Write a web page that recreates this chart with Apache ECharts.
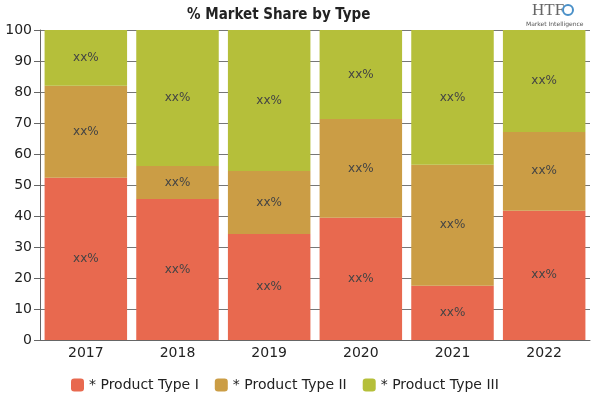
<!DOCTYPE html>
<html><head><meta charset="utf-8">
<script src="https://cdn.jsdelivr.net/npm/echarts@6/dist/echarts.min.js"></script>
<style>html,body{margin:0;padding:0;background:#fff}#c{width:600px;height:400px}</style>
</head><body><div id="c"></div>
<script>
const categories = ['2017','2018','2019','2020','2021','2022'];
const typeI = [52.3, 45.5, 34.2, 39.4, 17.5, 41.7];
const typeII = [29.7, 10.6, 20.3, 31.9, 39.0, 25.4];
const typeIII = [18.0, 43.9, 45.5, 28.7, 43.5, 32.9];
const seriesNames = ['* Product Type I', '* Product Type II', '* Product Type III'];
const colors = ['#E8694F', '#CB9D45', '#B5BF3A'];
const labelText = 'xx%';

const chart = echarts.init(document.getElementById('c'));
const font = 'DejaVu Sans';
const mk = (name, data, color) => ({
  name, type: 'bar', stack: 'total', data, barCategoryGap: '10%',
  itemStyle: {color},
  label: {show: true, position: 'inside', formatter: labelText, color: '#444', fontSize: 12, fontFamily: font},
  emphasis: {disabled: true}
});
chart.setOption({
  animation: false,
  title: {text: '% Market Share by Type', left: 182, top: 3,
    textStyle: {fontFamily: 'DejaVu Sans Condensed', fontWeight: 'bold', fontSize: 15, color: '#222'}},
  graphic: [
    {type: 'text', left: 532, top: 2, style: {text: 'HTF', font: '17px Liberation Serif', fill: '#666'}},
    {type: 'circle', shape: {cx: 568, cy: 10, r: 5}, style: {fill: 'none', stroke: '#4a90c8', lineWidth: 2}},
    {type: 'text', left: 526, top: 21, style: {text: 'Market Intelligence', font: '6px DejaVu Sans', fill: '#555'}}
  ],
  legend: {bottom: 3, left: 66, itemWidth: 13, itemHeight: 13, itemGap: 16,
    textStyle: {fontFamily: font, fontSize: 14, color: '#222'},
    data: seriesNames},
  grid: {left: 40, right: 10, top: 30, bottom: 60},
  xAxis: {type: 'category', data: categories,
    axisLine: {lineStyle: {color: '#666'}},
    axisTick: {show: false},
    axisLabel: {fontFamily: font, fontSize: 14, color: '#222', margin: 6}},
  yAxis: {type: 'value', min: 0, max: 100, interval: 10,
    axisLine: {show: true, lineStyle: {color: '#666'}},
    axisTick: {show: true, length: 6, lineStyle: {color: '#666'}},
    axisLabel: {fontFamily: font, fontSize: 14, color: '#222', margin: 8},
    splitLine: {show: true, lineStyle: {color: '#777'}}},
  series: [mk(seriesNames[0], typeI, colors[0]), mk(seriesNames[1], typeII, colors[1]), mk(seriesNames[2], typeIII, colors[2])]
});
</script></body></html>
